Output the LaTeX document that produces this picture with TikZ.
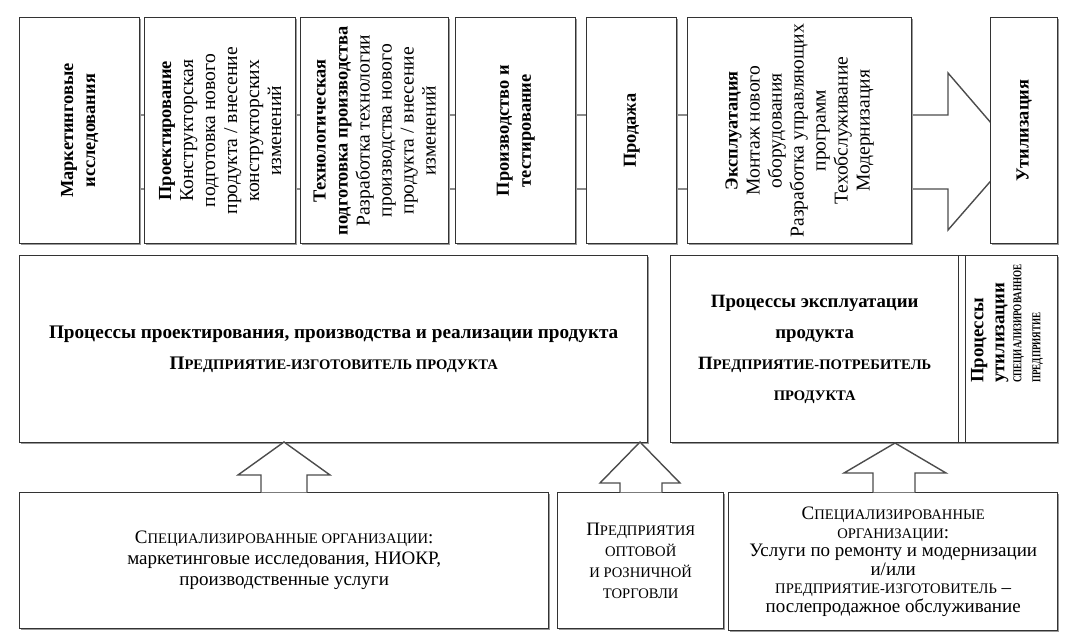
\documentclass[tikz,border=0pt]{standalone}
\usepackage{fontspec}
\setmainfont{Liberation Serif}
\usetikzlibrary{shadows}
\newcommand\smc[1]{{\fontsize{7.3}{9}\selectfont #1}}
\newcommand\hd[1]{{\fontsize{9.2}{11}\selectfont\bfseries #1}}
\newcommand\tinycap[1]{\scalebox{0.76}[1]{\fontsize{6}{7}\selectfont #1}}

\begin{document}
\begin{tikzpicture}[x=0.5pt,y=-0.5pt,
  box/.style={draw=black!80,line width=0.7pt,fill=white,inner sep=0pt,anchor=north west,
    drop shadow={shadow xshift=0.8pt,shadow yshift=-0.8pt,fill=black!40,opacity=1}},
  vtxt/.style={rotate=90,align=center,font=\fontsize{9.8}{11}\selectfont},
  htxt/.style={align=center,font=\fontsize{9.5}{10.5}\selectfont},
  blk/.style={draw=black!70,line width=0.7pt,fill=white}]
  \useasboundingbox (0,0) rectangle (1081,640);
  \filldraw[blk] (80,115) -- (948,115) -- (948,73) -- (1016,152) -- (948,230) -- (948,189) -- (80,189) -- cycle;
  \node[box,minimum width=60pt,minimum height=113pt] (mark) at (19,17) {};
  \node[box,minimum width=75.5pt,minimum height=113pt] (proj) at (144,17) {};
  \node[box,minimum width=74pt,minimum height=113pt] (tech) at (300,17) {};
  \node[box,minimum width=60pt,minimum height=113pt] (mfg) at (455,17) {};
  \node[box,minimum width=45pt,minimum height=113pt] (sale) at (586,17) {};
  \node[box,minimum width=112pt,minimum height=113pt] (oper) at (687,17) {};
  \node[box,minimum width=33.5pt,minimum height=113pt] (util) at (990,17) {};
  \node[vtxt] (mark-t) at (mark) {\hd{Маркетинговые}\\\hd{исследования}};
  \node[vtxt] (proj-t) at (proj) {\hd{Проектирование}\\Конструкторская\\подготовка нового\\продукта / внесение\\конструкторских\\изменений};
  \node[vtxt] (tech-t) at (tech) {\hd{Технологическая}\\\hd{подготовка производства}\\Разработка технологии\\производства нового\\продукта / внесение\\изменений};
  \node[vtxt] (mfg-t) at (mfg) {\hd{Производство и}\\\hd{тестирование}};
  \node[vtxt] (sale-t) at (sale) {\hd{Продажа}};
  \node[vtxt] (oper-t) at (oper) {\hd{Эксплуатация}\\Монтаж нового\\оборудования\\Разработка управляющих\\программ\\Техобслуживание\\Модернизация};
  \node[vtxt] (util-t) at (util) {\hd{Утилизация}};
  \node[box,minimum width=314pt,minimum height=93.5pt] (maker) at (19,255) {};
  \node[box,minimum width=144pt,minimum height=93.5pt] (user) at (670,255) {};
  \node[box,minimum width=3.5pt,minimum height=93.5pt] (gap) at (958,255) {};
  \node[box,minimum width=46pt,minimum height=93.5pt] (recyc) at (965,255) {};
  \node[htxt,font=\fontsize{9.6}{15.5}\selectfont\bfseries] (maker-t) at (maker) {Процессы проектирования, производства и реализации продукта\\П\smc{РЕДПРИЯТИЕ-ИЗГОТОВИТЕЛЬ ПРОДУКТА}};
  \node[htxt,font=\fontsize{9.4}{15.5}\selectfont\bfseries] (user-t) at (user) {Процессы эксплуатации\\продукта\\П\smc{РЕДПРИЯТИЕ-ПОТРЕБИТЕЛЬ}\\\smc{ПРОДУКТА}};
  \node[vtxt,align=left,anchor=west,font=\fontsize{9.4}{10.5}\selectfont\bfseries] (recyc-t) at (1007,390) {Процессы\\утилизации\\[-2pt]\tinycap{СПЕЦИАЛИЗИРОВАННОЕ}\\[-1pt]\tinycap{ПРЕДПРИЯТИЕ}};
  \node[box,minimum width=264.5pt,minimum height=68pt] (orgs) at (19,492) {};
  \node[box,minimum width=83pt,minimum height=68pt] (trade) at (557,492) {};
  \node[box,minimum width=164.5pt,minimum height=69pt] (serv) at (728,492) {};
  \node[htxt] (orgs-t) at (orgs) {С\smc{ПЕЦИАЛИЗИРОВАННЫЕ ОРГАНИЗАЦИИ}:\\маркетинговые исследования, НИОКР,\\производственные услуги};
  \node[htxt] (trade-t) at (trade) {П\smc{РЕДПРИЯТИЯ}\\\smc{ОПТОВОЙ}\\\smc{И РОЗНИЧНОЙ}\\\smc{ТОРГОВЛИ}};
  \node[htxt,font=\fontsize{9.5}{9.3}\selectfont] (serv-t) at (serv) {С\smc{ПЕЦИАЛИЗИРОВАННЫЕ}\\\smc{ОРГАНИЗАЦИИ}:\\Услуги по ремонту и модернизации\\и/или\\\smc{ПРЕДПРИЯТИЕ-ИЗГОТОВИТЕЛЬ} –\\послепродажное обслуживание};
  \coordinate (up1) at (284,442);
  \coordinate (up2) at (640,442);
  \coordinate (up3) at (895,443);
  \filldraw[blk] (261,492.5) -- (261,475) -- (238,475) -- (up1) -- (330,475) -- (307,475) -- (307,492.5);
  \filldraw[blk] (620,492.5) -- (620,483) -- (600,483) -- (up2) -- (680,483) -- (662,483) -- (662,492.5);
  \filldraw[blk] (873,492.5) -- (873,473) -- (844,473) -- (up3) -- (946,473) -- (915,473) -- (915,492.5);
\end{tikzpicture}
\end{document}
